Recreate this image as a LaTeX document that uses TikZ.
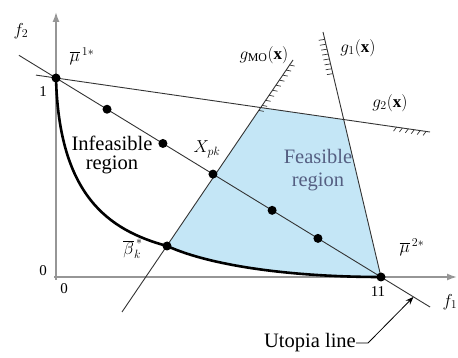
\documentclass[tikz,border=0pt]{standalone}
\usepackage{fontspec}
\setmainfont{Liberation Serif}
\usetikzlibrary{arrows.meta,calc}
\definecolor{feasfill}{RGB}{196,230,246}
\definecolor{feastext}{RGB}{85,95,130}
\definecolor{axisgray}{RGB}{150,150,150}
\begin{document}
\begin{tikzpicture}[x=1pt,y=-1pt,
  dot/.style={circle,fill=black,inner sep=0pt,minimum size=9pt},
  axis/.style={draw=axisgray,line width=1.6pt,-{Latex[length=10pt,width=7pt]}},
  cline/.style={draw=black!80,line width=0.9pt},
  hatch/.style={draw=black!80,line width=0.7pt},
  lbl/.style={font=\fontsize{17}{20}\selectfont,inner sep=0pt},
  txt/.style={font=\fontsize{20.5}{19}\selectfont,align=center,inner sep=0pt},
  num/.style={font=\fontsize{15}{15}\selectfont,inner sep=0pt}]
\useasboundingbox (0,0) rectangle (458,358);
\coordinate (ytop) at (56,12);
\coordinate (xend) at (457,277);
\coordinate (m1) at (56,78);
\coordinate (m2) at (381,277);
\coordinate (bk) at (167,246);
\coordinate (gmoA) at (122,312);
\coordinate (gmoB) at (293,60);
\coordinate (g1A) at (323,32);
\coordinate (g2A) at (36,75.1);
\coordinate (g2B) at (430,132);
\coordinate (P1) at (intersection of gmoA--gmoB and g2A--g2B);
\coordinate (P2) at (intersection of g1A--m2 and g2A--g2B);
% feasible region
\fill[feasfill] (P1) -- (P2) -- (m2) .. controls (300,277) and (215,267.6) .. (bk) -- cycle;
% axes
\draw[axis] (56,280) -- (ytop);
\draw[axis] (54,277) -- (xend);
% constraint lines
\draw[cline] (g2A) -- (g2B);
\draw[cline] (gmoA) -- (gmoB);
\draw[cline] (g1A) -- (m2);
% hatches
\foreach \t in {0.80,0.82,0.84,0.86,0.88,0.90,0.92,0.94,0.96,0.98}
  \draw[hatch] ($(gmoA)!\t!(gmoB)$) -- ++(5,1);
\foreach \t in {0.03,0.05,0.07,0.09,0.11,0.13,0.15,0.17}
  \draw[hatch] ($(g1A)!\t!(m2)$) -- ++(-6,1);
\foreach \t in {0.915,0.93,0.945,0.96,0.975,0.99}
  \draw[hatch] ($(g2A)!\t!(g2B)$) -- ++(-3,4);
% utopia line
\coordinate (uL) at ($(m1)!-0.114!(m2)$);
\coordinate (uR) at ($(m1)!1.151!(m2)$);
\draw[cline] (uL) -- (uR);
% Pareto frontier
\draw[line width=2.6pt] (m1) .. controls (59,195) and (108,230) .. (bk)
  .. controls (215,267.6) and (300,277) .. (m2);
% dots
\node[dot] (d1) at (m1) {};
\node[dot] (d2) at ($(m1)!0.157!(m2)$) {};
\node[dot] (d3) at ($(m1)!0.329!(m2)$) {};
\node[dot] (xpk) at ($(m1)!0.483!(m2)$) {};
\node[dot] (d5) at ($(m1)!0.665!(m2)$) {};
\node[dot] (d6) at ($(m1)!0.806!(m2)$) {};
\node[dot] (d7) at (m2) {};
\node[dot] (d8) at (bk) {};
% labels
\node[lbl] (lf2) at (21,31) {$f_2$};
\node[lbl] (lf1) at (450,302) {$f_1$};
\node[lbl] (lm1) at (82,56) {$\overline{\mu}^{\,1*}$};
\node[lbl] (lm2) at (412,247) {$\overline{\mu}^{\,2*}$};
\node[lbl] (lbk) at (133,249) {$\overline{\beta}_{k}^{\,*}$};
\node[lbl] (lx) at (207,149) {$X_{pk}$};
\node[lbl] (lgmo) at (264,55) {$g_{\mathrm{MO}}(\mathbf{x})$};
\node[lbl] (lg1) at (358,48) {$g_1(\mathbf{x})$};
\node[lbl] (lg2) at (390,103) {$g_2(\mathbf{x})$};
\node[num] (n1) at (43,92) {1};
\node[num] (n0a) at (43,271) {0};
\node[num] (n0b) at (64,289) {0};
\node[num] (n11) at (378,292) {11};
\node[txt] (inf) at (112,155) {Infeasible\\region};
\node[txt,text=feastext] (feas) at (318,170) {Feasible\\[4pt]region};
\node[txt] (ut) at (310,343) {Utopia line};
\coordinate (ua) at ($(m1)!1.1!(m2)$);
\draw[line width=0.8pt,-{Stealth[length=8pt,width=6pt]}] (ut.east) -- ++(12,0) -- (ua);
\end{tikzpicture}
\end{document}
